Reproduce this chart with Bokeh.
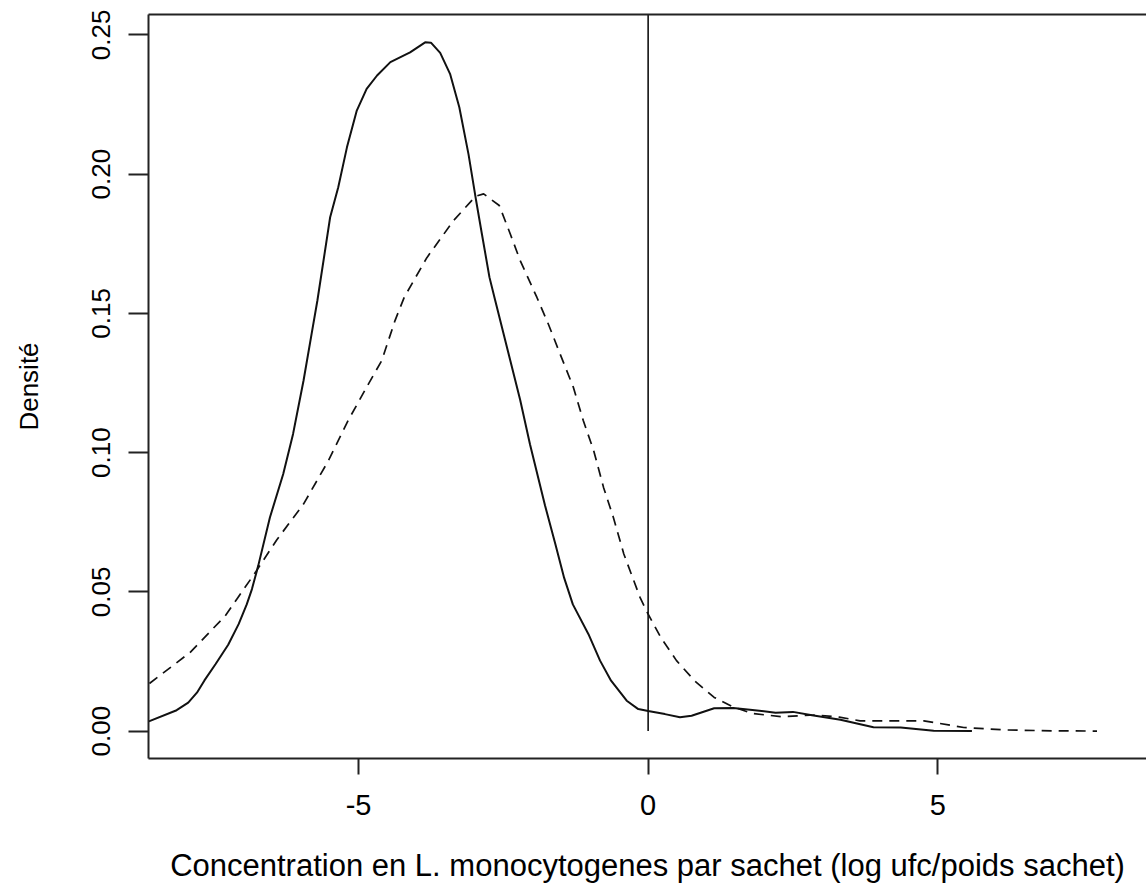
from bokeh.plotting import figure
from bokeh.models import Range1d, FixedTicker, PrintfTickFormatter, LinearAxis
from bokeh.embed import file_html
from bokeh.resources import INLINE

# ---- data ----
solid_x = [-8.62, -8.14, -7.94, -7.79, -7.66, -7.47, -7.25, -7.07, -6.93, -6.84, -6.73, -6.53,
           -6.30, -6.13, -5.95, -5.81, -5.71, -5.49, -5.35, -5.20, -5.03, -4.86, -4.68, -4.45, -4.11,
           -3.85, -3.75, -3.59, -3.42, -3.26, -3.10, -2.97, -2.87, -2.74, -2.64, -2.38, -2.21, -2.04,
           -1.78, -1.60, -1.45, -1.30, -1.03, -0.83, -0.64, -0.37, -0.17, 0.0, 0.29, 0.55, 0.75, 1.14, 1.47,
           1.80, 2.20, 2.50, 2.83, 3.32, 3.89, 4.36, 4.93, 5.59]
solid_y = [0.0035, 0.0075, 0.0102, 0.0138, 0.0182, 0.024, 0.031, 0.0384, 0.0455, 0.051, 0.0595, 0.0767,
           0.0923, 0.1067, 0.1258, 0.1426, 0.1546, 0.1845, 0.1953, 0.2096, 0.2228, 0.2306, 0.2354, 0.2402, 0.2437,
           0.2473, 0.2472, 0.2435, 0.236, 0.224, 0.207, 0.1905, 0.1785, 0.163, 0.1546, 0.1331, 0.119, 0.103,
           0.081, 0.067, 0.055, 0.0455, 0.0348, 0.0253, 0.0181, 0.0109, 0.0079, 0.0072, 0.0061, 0.0050, 0.0055, 0.0082, 0.0083,
           0.0076, 0.0066, 0.0069, 0.0057, 0.0041, 0.0014, 0.0013, 0.0001, 0.0]

dashed_x = [-8.61, -7.91, -7.30, -7.09, -6.78, -6.41, -5.95, -5.52, -5.18, -4.83, -4.60, -4.37, -4.21,
            -3.82, -3.36, -2.98, -2.84, -2.57, -2.38, -2.21, -1.92, -1.72, -1.52, -1.29, -1.12, -0.94,
            -0.77, -0.60, -0.42, -0.14, 0.0, 0.22, 0.49, 0.80, 1.14, 1.45, 1.80, 2.30, 2.90, 3.30, 3.66,
            4.76, 5.45, 6.19, 7.00, 7.75]
dashed_y = [0.0171, 0.0282, 0.0414, 0.0477, 0.057, 0.0687, 0.0815, 0.0971, 0.1115, 0.1246, 0.133, 0.1474, 0.1558,
            0.170, 0.1833, 0.1920, 0.1929, 0.1887, 0.1785, 0.169, 0.1557, 0.146, 0.1354, 0.1234, 0.1115, 0.1007,
            0.0875, 0.0767, 0.0636, 0.048, 0.042, 0.0336, 0.0253, 0.0181, 0.0121, 0.0088, 0.0063, 0.0052, 0.0058, 0.0050, 0.0037,
            0.0037, 0.0013, 0.0004, 0.0001, 0.0]

ref_line_x = [0.0]
ref_line_y0 = [0.0]

x_ticks = [-5, 0, 5]
y_ticks = [0.00, 0.05, 0.10, 0.15, 0.20, 0.25]

x_label = "Concentration en L. monocytogenes par sachet (log ufc/poids sachet)"
y_label = "Densité"

# ---- figure ----
X0, X1 = -8.626, 8.604
Y0, Y1 = -0.00984, 0.2573
FONT = "Liberation Sans"

p = figure(width=1146, height=887, output_backend="svg", toolbar_location=None,
           x_range=Range1d(X0, X1), y_range=Range1d(Y0, Y1),
           min_border_left=148, min_border_right=0, min_border_top=14, min_border_bottom=129)
p.outline_line_color = None
p.grid.visible = False
p.background_fill_color = "white"
p.border_fill_color = "white"

p.line(solid_x, solid_y, line_color="#111111", line_width=2)
p.line(dashed_x, dashed_y, line_color="#111111", line_width=1.7, line_dash="10 7")
p.segment(x0=ref_line_x, y0=ref_line_y0, x1=ref_line_x, y1=[Y1], line_color="#111111", line_width=1.6)

xa = p.xaxis[0]
xa.ticker = FixedTicker(ticks=x_ticks)
xa.formatter = PrintfTickFormatter(format="%d")
xa.axis_line_width = 2
xa.axis_line_color = "#222222"
xa.major_tick_line_width = 2
xa.major_tick_line_color = "#222222"
xa.major_tick_out = 16
xa.major_tick_in = 0
xa.minor_tick_line_color = None
xa.major_label_text_font = FONT
xa.major_label_text_font_size = "29px"
xa.major_label_text_color = "black"
xa.major_label_standoff = 20
xa.axis_label = x_label
xa.axis_label_text_font = FONT
xa.axis_label_text_font_style = "normal"
xa.axis_label_text_font_size = "31px"
xa.axis_label_text_color = "black"
xa.axis_label_standoff = 30

ya = p.yaxis[0]
ya.ticker = FixedTicker(ticks=y_ticks)
ya.formatter = PrintfTickFormatter(format="%.2f")
ya.axis_line_width = 2
ya.axis_line_color = "#222222"
ya.major_tick_line_width = 2
ya.major_tick_line_color = "#222222"
ya.major_tick_out = 20
ya.major_tick_in = 0
ya.minor_tick_line_color = None
ya.major_label_orientation = "parallel"
ya.major_label_text_font = FONT
ya.major_label_text_font_size = "26px"
ya.major_label_text_color = "black"
ya.major_label_standoff = 18
ya.axis_label = y_label
ya.axis_label_text_font = FONT
ya.axis_label_text_font_style = "normal"
ya.axis_label_text_font_size = "26px"
ya.axis_label_text_color = "black"
ya.axis_label_standoff = 46

top = LinearAxis(ticker=FixedTicker(ticks=[]), major_label_text_font_size="0px",
                 major_tick_line_color=None, minor_tick_line_color=None,
                 axis_line_width=2, axis_line_color="#222222", major_label_standoff=0)
p.add_layout(top, "above")

open("out.html", "w").write(file_html(p, INLINE))
